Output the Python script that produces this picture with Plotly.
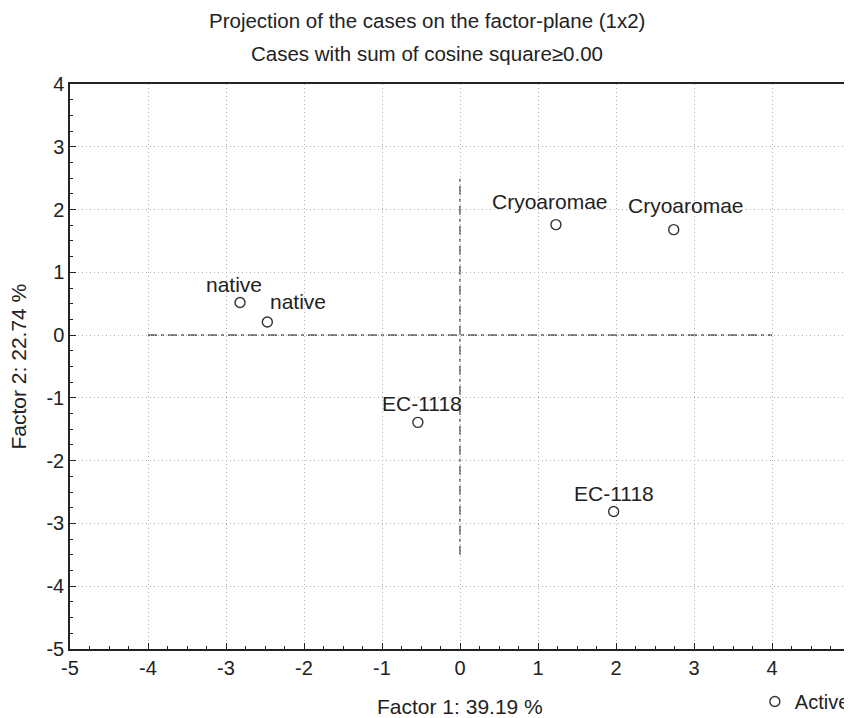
import plotly.graph_objects as go

# Data
labels = ["native", "native", "Cryoaromae", "Cryoaromae", "EC-1118", "EC-1118"]
factor1 = [-2.82, -2.47, 1.23, 2.74, -0.54, 1.97]
factor2 = [0.52, 0.21, 1.76, 1.68, -1.39, -2.81]
x_tick_vals = [-5, -4, -3, -2, -1, 0, 1, 2, 3, 4, 5]
y_tick_vals = [-5, -4, -3, -2, -1, 0, 1, 2, 3, 4]
x_tick_text = ["-5", "-4", "-3", "-2", "-1", "0", "1", "2", "3", "4", "5"]
y_tick_text = ["-5", "-4", "-3", "-2", "-1", "0", "1", "2", "3", "4"]
# reference cross extents
h_line_x = [-4, 4]
v_line_y = [-3.5, 2.5]

# label offsets (pixels) - style only
label_dx = [-6, 31, -6, 12, 4, 0]
label_dy = [18, 20, 23, 24, 19, 18]

FONT = "Liberation Sans, Arial, sans-serif"
TXT = "#222222"

fig = go.Figure()
fig.add_trace(go.Scatter(
    x=factor1, y=factor2, mode="markers", name="Active",
    marker=dict(symbol="circle-open", size=10, color="#333333", line=dict(width=1.4, color="#333333")),
    showlegend=True,
))

for lab, xv, yv, dx, dy in zip(labels, factor1, factor2, label_dx, label_dy):
    fig.add_annotation(x=xv, y=yv, text=lab, showarrow=False, xshift=dx, yshift=dy,
                       font=dict(family=FONT, size=21, color=TXT))

line_style = dict(color="#666666", width=1.6, dash="9px,4px,3px,4px")
fig.add_shape(type="line", x0=h_line_x[0], x1=h_line_x[1], y0=0, y1=0, line=line_style, layer="below")
fig.add_shape(type="line", x0=0, x1=0, y0=v_line_y[0], y1=v_line_y[1], line=line_style, layer="below")

axis_common = dict(
    showline=True, linecolor="#222222", linewidth=1.5, mirror=True,
    ticks="inside", ticklen=6, tickcolor="#222222", tickwidth=1.2,
    showgrid=True, gridcolor="#b0b0b0", griddash="1px,3px", gridwidth=1,
    zeroline=False, tickfont=dict(family=FONT, size=20, color=TXT),
    minor=dict(dtick=0.25, ticks="inside", ticklen=3, tickcolor="#222222", showgrid=False),
)

fig.update_layout(
    width=852, height=718,
    margin=dict(l=62, r=5, t=76, b=75),
    paper_bgcolor="white", plot_bgcolor="white",
    xaxis=dict(range=[-5, 5], tickvals=x_tick_vals, ticktext=x_tick_text, **axis_common),
    yaxis=dict(range=[-5, 4], tickvals=y_tick_vals, ticktext=y_tick_text, **axis_common),
    legend=dict(x=0.878, xanchor="left", y=-0.093, yanchor="middle", font=dict(family=FONT, size=20, color=TXT),
                bgcolor="rgba(0,0,0,0)", itemwidth=30),
)

fig.add_annotation(xref="paper", yref="paper", x=0.5, y=1, xshift=-33, yshift=64, yanchor="middle", showarrow=False,
                   text="Projection of the cases on the factor-plane (1x2)",
                   font=dict(family=FONT, size=20.5, color=TXT))
fig.add_annotation(xref="paper", yref="paper", x=0.5, y=1, xshift=-33, yshift=31, yanchor="middle", showarrow=False,
                   text="Cases with sum of cosine square≥0.00",
                   font=dict(family=FONT, size=20.5, color=TXT))
fig.add_annotation(xref="paper", yref="paper", x=0.5, y=0, yshift=-57, yanchor="middle", showarrow=False,
                   text="Factor 1: 39.19 %", font=dict(family=FONT, size=21, color=TXT))
fig.add_annotation(xref="paper", yref="paper", x=0, y=0.5, xshift=-52, xanchor="center", yanchor="middle",
                   textangle=-90, showarrow=False,
                   text="Factor 2: 22.74 %", font=dict(family=FONT, size=21, color=TXT))

fig.write_html("out.html")
